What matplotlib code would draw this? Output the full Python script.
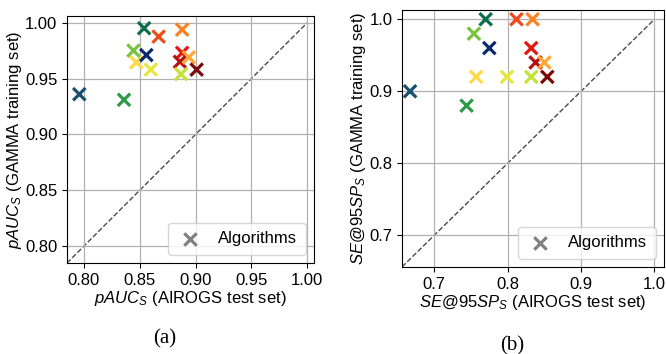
import matplotlib
matplotlib.use("Agg")
import matplotlib.pyplot as plt

plt.rcParams['font.family'] = ['Liberation Sans', 'DejaVu Sans']
plt.rcParams['mathtext.fontset'] = 'custom'
plt.rcParams['mathtext.it'] = 'Liberation Sans:italic'
plt.rcParams['mathtext.rm'] = 'Liberation Sans'
plt.rcParams['font.size'] = 12

# algorithm colours (same order in both panels)
colors = ['#1b4f72', '#2e9a48', '#0d6e4a', '#7cc242', '#ffd94a', '#0a2a6e', '#e6e63c',
          '#f24a1a', '#ff8020', '#e8150e', '#b81010', '#ffa833', '#c4e238', '#7a0a0a']

# (a) pAUC_S
pauc_airogs = [0.796, 0.836, 0.854, 0.8445, 0.847, 0.856, 0.860,
               0.867, 0.888, 0.888, 0.886, 0.894, 0.887, 0.901]
pauc_gamma = [0.936, 0.931, 0.995, 0.975, 0.9645, 0.971, 0.958,
              0.9875, 0.9937, 0.973, 0.965, 0.969, 0.954, 0.958]

# (b) SE@95SP_S
se_airogs = [0.667, 0.744, 0.770, 0.754, 0.757, 0.775, 0.799,
             0.812, 0.834, 0.832, 0.838, 0.850, 0.832, 0.854]
se_gamma = [0.90, 0.88, 1.00, 0.98, 0.92, 0.96, 0.92,
            1.00, 1.00, 0.96, 0.94, 0.94, 0.92, 0.92]

fig = plt.figure(figsize=(6.66, 3.54), dpi=100)
ax1 = fig.add_axes([0.1006, 0.257, 0.3709, 0.698])
ax2 = fig.add_axes([0.6036, 0.246, 0.3934, 0.726])


def draw_panel(ax, x, y, lo, hi, ticks, fmt, xlabel, ylabel):
    ax.grid(True, color='#b0b0b0', linewidth=0.9, zorder=0)
    ax.plot([lo, 1.0], [lo, 1.0], '--', color='#4a4a4a', linewidth=1.0, zorder=1)
    ax.scatter(x, y, marker='x', s=80, linewidths=2.3, c=colors, zorder=3)
    ax.scatter([], [], marker='x', s=80, linewidths=2.3, c='gray', label='Algorithms')
    ax.set_xlim(lo, hi)
    ax.set_ylim(lo, hi)
    ax.set_xticks(ticks)
    ax.set_yticks(ticks)
    ax.set_xticklabels([fmt.format(t) for t in ticks])
    ax.set_yticklabels([fmt.format(t) for t in ticks])
    ax.tick_params(length=3.5, labelsize=12)
    ax.set_xlabel(xlabel, fontsize=12, labelpad=1)
    ax.set_ylabel(ylabel, fontsize=12, labelpad=1)
    ax.legend(loc='lower right', fontsize=12, handlelength=1.6,
              handletextpad=0.9, borderpad=0.5)


draw_panel(ax1, pauc_airogs, pauc_gamma, 0.785, 1.006,
           [0.80, 0.85, 0.90, 0.95, 1.00], '{:.2f}',
           '$pAUC_S$ (AIROGS test set)', '$pAUC_S$ (GAMMA training set)')
draw_panel(ax2, se_airogs, se_gamma, 0.656, 1.013,
           [0.7, 0.8, 0.9, 1.0], '{:.1f}',
           '$SE$@95$SP_S$ (AIROGS test set)', '$SE$@95$SP_S$ (GAMMA training set)')

fig.text(0.248, 0.03, '(a)', family='Liberation Serif', fontsize=15, ha='center')
fig.text(0.769, 0.01, '(b)', family='Liberation Serif', fontsize=15, ha='center')

fig.savefig('out.png', dpi=100)
